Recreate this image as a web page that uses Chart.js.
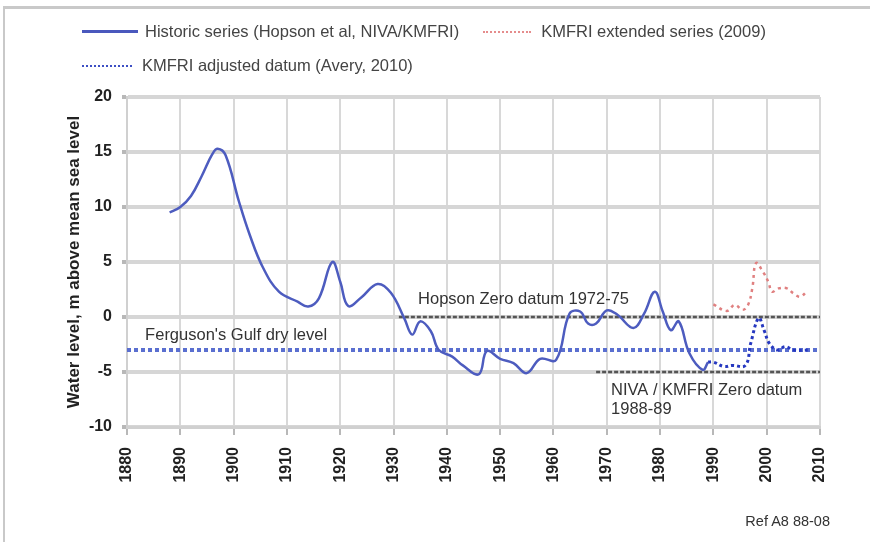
<!DOCTYPE html>
<html>
<head>
<meta charset="utf-8">
<script src="https://cdn.jsdelivr.net/npm/chart.js@4.4.1/dist/chart.umd.min.js"></script>
<style>
  html, body { margin: 0; padding: 0; background: #fff; }
  body { width: 870px; height: 542px; position: relative; overflow: hidden; font-family: "Liberation Sans", Arial, sans-serif; }
  #frame { position: absolute; left: 3px; top: 6px; width: 880px; height: 560px; border-top: 3px solid #c9c9c9; border-left: 2px solid #c9c9c9; }
  #chart { position: absolute; left: 0; top: 0; }
  .legend-row { position: absolute; left: 82px; display: flex; align-items: center; font-size: 16.5px; color: #444; white-space: nowrap; }
  .sw { display: inline-block; width: 56px; height: 0; margin-right: 7px; }
  .sw.solid { border-top: 3px solid #4a58bd; }
  .sw.red { border-top: 2px dotted #e58c8c; width: 48px; margin-right: 10px; }
  .sw.blue { border-top: 2px dotted #3d4fc4; width: 50px; margin-right: 10px; }
  #ref { position: absolute; right: 40px; top: 513px; font-size: 14.5px; color: #333; }
</style>
</head>
<body>
<div id="frame"></div>
<canvas id="chart" width="870" height="542"></canvas>
<div class="legend-row" style="top:22px;">
  <span class="sw solid"></span><span>Historic series (Hopson et al, NIVA/KMFRI)</span>
  <span class="sw red" style="margin-left:24px;"></span><span>KMFRI extended series (2009)</span>
</div>
<div class="legend-row" style="top:56px;">
  <span class="sw blue"></span><span>KMFRI adjusted datum (Avery, 2010)</span>
</div>
<div id="ref">Ref A8 88-08</div>

<script>
// historic series (Hopson et al, NIVA/KMFRI)
const historicYears = [1888, 1890, 1892, 1894, 1896, 1897, 1898.5, 1901, 1903, 1905.5, 1908.5, 1912, 1914, 1916, 1918.5, 1920, 1921.5, 1924, 1927, 1929.5, 1932, 1933.5, 1935, 1937, 1938.5, 1941, 1943, 1946, 1947.5, 1950, 1952.5, 1955, 1957.5, 1960.5, 1963, 1965, 1966.5, 1968, 1970, 1972, 1975, 1977, 1979, 1980.5, 1982, 1983.5, 1985.5, 1988, 1989];
const historicLevels = [9.5, 10.0, 11.0, 12.8, 14.8, 15.3, 14.7, 10.5, 7.5, 4.5, 2.3, 1.4, 0.95, 1.7, 5.0, 3.2, 1.0, 1.8, 3.0, 2.2, -0.1, -1.6, -0.4, -1.3, -3.0, -3.6, -4.4, -5.2, -3.1, -3.8, -4.2, -5.1, -3.8, -3.9, 0.3, 0.5, -0.6, -0.6, 0.6, 0.2, -1.0, 0.3, 2.3, 0.5, -1.2, -0.4, -3.3, -4.8, -4.1];

// KMFRI extended series (2009)
const extendedYears = [1990, 1992.5, 1994, 1995.5, 1996.5, 1997.3, 1998, 1999.3, 2000.3, 2001, 2002.2, 2003.8, 2005, 2006.3, 2007.5];
const extendedLevels = [1.15, 0.55, 1.1, 0.65, 1.1, 2.6, 4.9, 4.1, 3.2, 2.3, 2.6, 2.6, 2.15, 1.85, 2.3];

// KMFRI adjusted datum (Avery, 2010)
const adjustedYears = [1989, 1990, 1992, 1993.5, 1996, 1997, 1998.5, 1999.5, 2000.5, 2002, 2003.5, 2005, 2008];
const adjustedLevels = [-4.1, -4.1, -4.5, -4.4, -4.4, -2.4, -0.1, -1.2, -2.4, -3.0, -2.7, -3.0, -3.0];

// reference levels
const hopsonYears = [1931, 2010];
const hopsonLevels = [0, 0];
const fergusonYears = [1880, 2010];
const fergusonLevels = [-3, -3];
const nivaYears = [1968, 2010];
const nivaLevels = [-5, -5];

const xTicks = [1880, 1890, 1900, 1910, 1920, 1930, 1940, 1950, 1960, 1970, 1980, 1990, 2000, 2010];
const yTicks = [-10, -5, 0, 5, 10, 15, 20];

const FONT = '"Liberation Sans", Arial, sans-serif';

function pts(xs, ys) {
    return xs.map((x, i) => ({ x: x, y: ys[i] }));
}

// labels for the reference lines
const datumLabels = {
    id: 'datumLabels',
    afterDatasetsDraw(chart) {
        const { ctx, scales: { x, y } } = chart;
        ctx.save();
        ctx.font = '16.5px ' + FONT;
        ctx.fillStyle = '#333';
        ctx.textBaseline = 'middle';
        ctx.textAlign = 'left';
        ctx.fillText('Hopson Zero datum 1972-75', x.getPixelForValue(1934.6), y.getPixelForValue(hopsonLevels[0]) - 18);
        ctx.fillText("Ferguson's Gulf dry level", x.getPixelForValue(1883.4), y.getPixelForValue(fergusonLevels[0]) - 15);
        ctx.fillText('NIVA / KMFRI Zero datum', x.getPixelForValue(1970.8), y.getPixelForValue(nivaLevels[0]) + 18);
        ctx.fillText('1988-89', x.getPixelForValue(1970.8), y.getPixelForValue(nivaLevels[0]) + 37);
        ctx.restore();
    }
};

new Chart(document.getElementById('chart'), {
    type: 'line',
    data: {
        datasets: [
            {
                label: 'Historic series (Hopson et al, NIVA/KMFRI)',
                data: pts(historicYears, historicLevels),
                borderColor: '#4d5cbf',
                borderWidth: 2.5,
                tension: 0.4,
                pointRadius: 0
            },
            {
                label: 'KMFRI adjusted datum (Avery, 2010)',
                data: pts(adjustedYears, adjustedLevels),
                borderColor: '#2638c0',
                borderWidth: 3,
                borderDash: [3, 3],
                tension: 0.4,
                pointRadius: 0
            },
            {
                label: 'KMFRI extended series (2009)',
                data: pts(extendedYears, extendedLevels),
                borderColor: '#e08080',
                borderWidth: 2.5,
                borderDash: [3, 4],
                tension: 0.4,
                pointRadius: 0
            },
            {
                label: 'Hopson Zero datum',
                data: pts(hopsonYears, hopsonLevels),
                borderColor: '#555',
                borderWidth: 2.5,
                borderDash: [4, 2],
                pointRadius: 0
            },
            {
                label: "Ferguson's Gulf dry level",
                data: pts(fergusonYears, fergusonLevels),
                borderColor: '#5a6fd0',
                borderWidth: 4,
                borderDash: [4, 3],
                pointRadius: 0
            },
            {
                label: 'NIVA / KMFRI Zero datum',
                data: pts(nivaYears, nivaLevels),
                borderColor: '#555',
                borderWidth: 2.5,
                borderDash: [4, 2],
                pointRadius: 0
            }
        ]
    },
    options: {
        responsive: false,
        animation: false,
        devicePixelRatio: 1,
        layout: { padding: { top: 97, right: 50, left: 0, bottom: 0 } },
        plugins: {
            legend: { display: false },
            tooltip: { enabled: false }
        },
        scales: {
            x: {
                type: 'linear',
                min: 1880,
                max: 2010,
                afterFit(scale) { scale.height = 115; },
                afterBuildTicks(scale) {
                    const t = [];
                    for (let v = 1880; v <= 2010; v += 2) t.push({ value: v });
                    scale.ticks = t;
                },
                ticks: {
                    autoSkip: false,
                    minRotation: 90,
                    maxRotation: 90,
                    padding: 12,
                    color: '#222',
                    font: { family: FONT, size: 16, weight: 'bold' },
                    callback: v => xTicks.includes(v) ? String(v) : null
                },
                grid: {
                    color: c => xTicks.includes(c.tick.value) ? '#d8d8d8' : '#eaeaea',
                    lineWidth: 2,
                    tickColor: c => xTicks.includes(c.tick.value) ? '#b8b8b8' : 'rgba(0,0,0,0)',
                    tickLength: 8
                },
                border: { color: '#d0d0d0', width: 3 }
            },
            y: {
                min: -10,
                max: 20,
                afterFit(scale) { scale.width = 127; },
                ticks: {
                    stepSize: 1,
                    padding: 10,
                    color: '#222',
                    font: { family: FONT, size: 16, weight: 'bold' },
                    callback: v => yTicks.includes(v) ? String(v) : null
                },
                grid: {
                    color: c => yTicks.includes(c.tick.value) ? '#d6d6d6' : '#e9e9e9',
                    lineWidth: c => yTicks.includes(c.tick.value) ? 4 : 2,
                    tickColor: c => yTicks.includes(c.tick.value) ? '#b8b8b8' : 'rgba(0,0,0,0)',
                    tickLength: 5
                },
                border: { color: '#d0d0d0', width: 2 },
                title: {
                    display: true,
                    text: 'Water level, m above mean sea level',
                    color: '#222',
                    font: { family: FONT, size: 17, weight: 'bold' },
                    padding: { top: 64, bottom: 0 }
                }
            }
        }
    },
    plugins: [datumLabels]
});
</script>
</body>
</html>
